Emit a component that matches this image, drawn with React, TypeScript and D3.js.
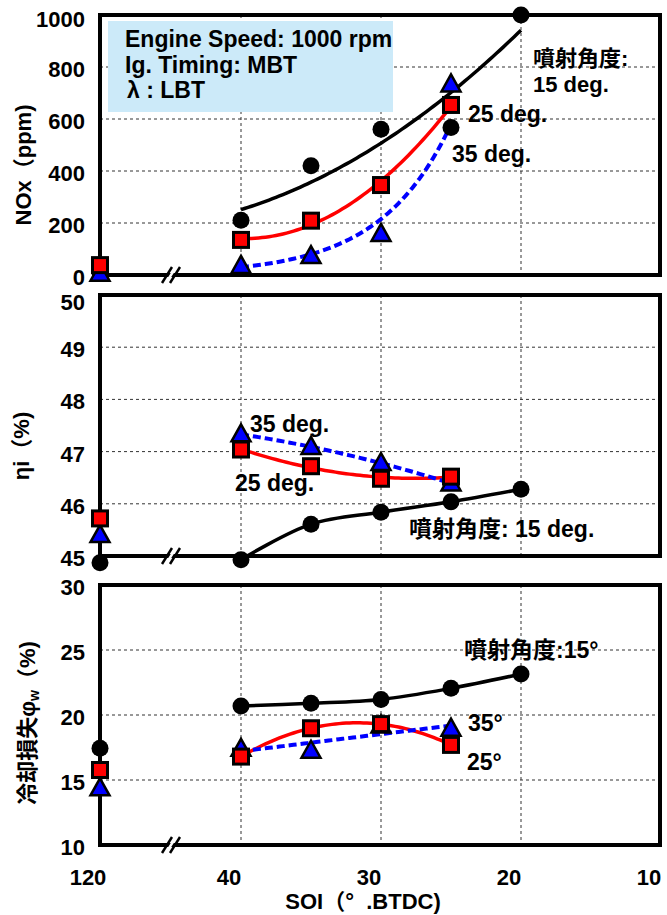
import React from "react";
import * as d3 from "d3";

// Start of injection (deg BTDC). 120 sits on the far side of the axis break.
const SOI_15 = [120, 40, 35, 30, 25, 20];
const SOI_25_35 = [120, 40, 35, 30, 25];

// NOx (ppm)
const NOX_15 = [10, 211, 420, 561, 567, 1000];
const NOX_25 = [38, 135, 209, 346, 654];
const NOX_35 = [5, 35, 73, 158, 733];

// Indicated thermal efficiency (%)
const ETA_15 = [44.87, 44.93, 45.61, 45.84, 46.04, 46.28];
const ETA_25 = [45.72, 47.04, 46.72, 46.48, 46.52];
const ETA_35 = [45.4, 47.33, 47.09, 46.78, 46.39];

// Cooling loss (%)
const COOL_15 = [17.44, 20.69, 20.9, 21.2, 22.05, 23.15];
const COOL_25 = [15.77, 16.8, 18.98, 19.3, 17.7];
const COOL_35 = [14.36, 17.4, 17.25, 19.2, 18.95];

const X_TICK_SOI = [120, 40, 30, 20, 10];
const X_TICK_LABELS = ["120", "40", "30", "20", "10"];
const X_GRID_SOI = [40, 30, 20];
const AXIS_BREAK_SOI = 45;

const NOX_TICKS = [0, 200, 400, 600, 800, 1000];
const ETA_TICKS = [45, 46, 47, 48, 49, 50];
const COOL_TICKS = [10, 15, 20, 25, 30];

const FONT = "'Liberation Sans', Arial, 'Noto Sans CJK JP', sans-serif";
const RED = "#ff0000";
const BLUE = "#0000ff";

const LEFT = 100;
const RIGHT = 660;
const xs = d3.scaleLinear().domain([50, 10]).range([101, 661]);
// values beyond the break are drawn at the start of the axis
const soiX = (s: number) => (s > 50 ? LEFT : xs(s));

type FitKind = "poly2" | "exp" | "linear" | "smooth";
type Marker = "circle" | "square" | "triangle";

interface Series {
  soi: number[];
  values: number[];
  fit: FitKind;
  marker: Marker;
  color: string;
  dashed?: boolean;
}

function solve(A: number[][], b: number[]): number[] {
  const n = b.length;
  const M = A.map((r, i) => [...r, b[i]]);
  for (let c = 0; c < n; c++) {
    let p = c;
    for (let r = c + 1; r < n; r++) if (Math.abs(M[r][c]) > Math.abs(M[p][c])) p = r;
    [M[c], M[p]] = [M[p], M[c]];
    for (let r = 0; r < n; r++) {
      if (r === c) continue;
      const f = M[r][c] / M[c][c];
      for (let k = c; k <= n; k++) M[r][k] -= f * M[c][k];
    }
  }
  return M.map((r, i) => r[n] / r[i]);
}

function polyFit(x: number[], y: number[], deg: number) {
  const A: number[][] = [];
  const b: number[] = [];
  for (let i = 0; i <= deg; i++) {
    A.push(d3.range(deg + 1).map((j) => d3.sum(x, (v) => Math.pow(v, i + j))));
    b.push(d3.sum(x.map((v, k) => Math.pow(v, i) * y[k])));
  }
  const coef = solve(A, b);
  return (v: number) => d3.sum(coef.map((c, i) => c * Math.pow(v, i)));
}

function expFit(x: number[], y: number[]) {
  const lin = polyFit(x, y.map(Math.log), 1);
  return (v: number) => Math.exp(lin(v));
}

function trendPath(s: Series, y: d3.ScaleLinear<number, number>): string {
  // trend lines cover only the settings on the near side of the break
  const idx = s.soi.map((_, i) => i).filter((i) => s.soi[i] <= 40);
  const px = idx.map((i) => s.soi[i]);
  const py = idx.map((i) => s.values[i]);
  if (s.fit === "smooth") {
    return (
      d3
        .line<number>()
        .x((_, i) => xs(px[i]))
        .y((_, i) => y(py[i]))
        .curve(d3.curveCatmullRom.alpha(0.5))(px) || ""
    );
  }
  const f =
    s.fit === "exp" ? expFit(px, py) : polyFit(px, py, s.fit === "linear" ? 1 : 2);
  const hi = d3.max(px) as number;
  const lo = d3.min(px) as number;
  const samples = d3.range(hi, lo - 1e-9, -0.25);
  return (
    d3
      .line<number>()
      .x((v) => xs(v))
      .y((v) => y(f(v)))(samples) || ""
  );
}

function MarkerShape({ kind, x, y }: { kind: Marker; x: number; y: number }) {
  if (kind === "circle") return <circle cx={x} cy={y} r={8.5} fill="#000" />;
  if (kind === "square")
    return (
      <rect x={x - 7.5} y={y - 7.5} width={15} height={15} fill={RED} stroke="#000" strokeWidth={3} />
    );
  return (
    <path
      d={`M${x},${y - 10} L${x + 9.5},${y + 7} L${x - 9.5},${y + 7} Z`}
      fill={BLUE}
      stroke="#000"
      strokeWidth={2.5}
      strokeLinejoin="miter"
    />
  );
}

interface PanelProps {
  top: number;
  bottom: number;
  domain: [number, number];
  ticks: number[];
  topLabelShift?: number;
  series: Series[];
  children?: React.ReactNode;
}

function Panel({ top, bottom, domain, ticks, topLabelShift = 0, series, children }: PanelProps) {
  const y = d3.scaleLinear().domain(domain).range([bottom, top]);
  const bx = xs(AXIS_BREAK_SOI);
  const markerOrder: Marker[] = ["circle", "triangle", "square"];
  const maxTick = d3.max(ticks) as number;
  return (
    <g>
      {/* grid */}
      {ticks.slice(1, -1).map((t) => (
        <line key={"h" + t} x1={LEFT} x2={RIGHT} y1={y(t)} y2={y(t)} stroke="#333" strokeWidth={1} strokeDasharray="3,3" />
      ))}
      {X_GRID_SOI.map((s) => (
        <line key={"v" + s} x1={xs(s)} x2={xs(s)} y1={top} y2={bottom} stroke="#333" strokeWidth={1} strokeDasharray="3,3" />
      ))}
      {/* frame */}
      <rect x={LEFT} y={top} width={RIGHT - LEFT} height={bottom - top} fill="none" stroke="#000" strokeWidth={4} />
      {/* axis break */}
      <polygon points={`${bx - 6},${bottom + 7} ${bx + 3},${bottom - 7} ${bx + 6},${bottom - 7} ${bx - 3},${bottom + 7}`} fill="#fff" />
      <line x1={bx - 9} y1={bottom + 8} x2={bx + 1} y2={bottom - 8} stroke="#000" strokeWidth={2.5} />
      <line x1={bx - 1} y1={bottom + 8} x2={bx + 9} y2={bottom - 8} stroke="#000" strokeWidth={2.5} />
      {/* y tick labels */}
      {ticks.map((t) => (
        <text
          key={"t" + t}
          x={85}
          y={y(t) + 10 + (t === maxTick ? topLabelShift : 0)}
          textAnchor="end"
          fontFamily={FONT}
          fontWeight="bold"
          fontSize={22}
        >
          {t}
        </text>
      ))}
      {/* trend lines */}
      {series.map((s, i) => (
        <path
          key={"l" + i}
          d={trendPath(s, y)}
          fill="none"
          stroke={s.color}
          strokeWidth={s.dashed ? 4 : 3.5}
          strokeDasharray={s.dashed ? "8,4" : undefined}
        />
      ))}
      {/* markers */}
      {markerOrder.map((m) =>
        series
          .filter((s) => s.marker === m)
          .map((s, si) =>
            s.values.map((v, i) => (
              <MarkerShape key={m + si + "-" + i} kind={m} x={soiX(s.soi[i])} y={y(v)} />
            ))
          )
      )}
      {children}
    </g>
  );
}

const label = { fontFamily: FONT, fontWeight: "bold" as const, fontSize: 22 };
const note = { ...label, fontSize: 23 };

export default function App() {
  return (
    <svg width={667} height={915} style={{ position: "absolute", left: 0, top: 0, background: "#fff" }}>
      <rect width={667} height={915} fill="#fff" />

      <Panel
        top={15}
        bottom={275}
        domain={[0, 1000]}
        ticks={NOX_TICKS}
        topLabelShift={2}
        series={[
          { soi: SOI_15, values: NOX_15, fit: "poly2", marker: "circle", color: "#000" },
          { soi: SOI_25_35, values: NOX_25, fit: "poly2", marker: "square", color: RED },
          { soi: SOI_25_35, values: NOX_35, fit: "exp", marker: "triangle", color: BLUE, dashed: true },
        ]}
      >
        <rect x={108} y={21} width={285} height={91} fill="#cceaf9" />
        <text {...note} x={125} y={47}>Engine Speed: 1000 rpm</text>
        <text {...note} x={125} y={72.5}>Ig. Timing: MBT</text>
        <text {...note} x={127} y={98}>λ : LBT</text>
        <text {...label} x={533} y={66}>噴射角度:</text>
        <text {...label} x={533} y={92}>15 deg.</text>
        <text {...note} x={468} y={122}>25 deg.</text>
        <text {...note} x={452} y={162}>35 deg.</text>
      </Panel>

      <Panel
        top={295}
        bottom={556}
        domain={[45, 50]}
        ticks={ETA_TICKS}
        topLabelShift={5}
        series={[
          { soi: SOI_15, values: ETA_15, fit: "smooth", marker: "circle", color: "#000" },
          { soi: SOI_25_35, values: ETA_25, fit: "poly2", marker: "square", color: RED },
          { soi: SOI_25_35, values: ETA_35, fit: "poly2", marker: "triangle", color: BLUE, dashed: true },
        ]}
      >
        <text {...note} x={250} y={432}>35 deg.</text>
        <text {...note} x={235} y={491}>25 deg.</text>
        <text {...note} x={409} y={537}>噴射角度: 15 deg.</text>
      </Panel>

      <Panel
        top={585}
        bottom={845}
        domain={[10, 30]}
        ticks={COOL_TICKS}
        series={[
          { soi: SOI_15, values: COOL_15, fit: "smooth", marker: "circle", color: "#000" },
          { soi: SOI_25_35, values: COOL_25, fit: "poly2", marker: "square", color: RED },
          { soi: SOI_25_35, values: COOL_35, fit: "linear", marker: "triangle", color: BLUE, dashed: true },
        ]}
      >
        <text {...note} x={464} y={658}>噴射角度:15°</text>
        <text {...note} x={468} y={731}>35°</text>
        <text {...note} x={467} y={770}>25°</text>
      </Panel>

      {/* x axis */}
      {X_TICK_SOI.map((s, i) => (
        <text key={s} {...label} x={soiX(s) - 12} y={885} textAnchor="middle">
          {X_TICK_LABELS[i]}
        </text>
      ))}
      <text {...label} x={363} y={909} textAnchor="middle" style={{ whiteSpace: "pre" }}>
        SOI（°  .BTDC)
      </text>

      {/* y axis titles */}
      <text {...label} transform="translate(31,165) rotate(-90)" textAnchor="middle">NOx（ppm)</text>
      <text {...label} transform="translate(29,446) rotate(-90)" textAnchor="middle">ηi（%)</text>
      <text {...label} transform="translate(35,723) rotate(-90)" textAnchor="middle">
        冷却損失φ<tspan fontSize={14} dy={4}>w</tspan>
        <tspan dy={-4}>（%)</tspan>
      </text>
    </svg>
  );
}
